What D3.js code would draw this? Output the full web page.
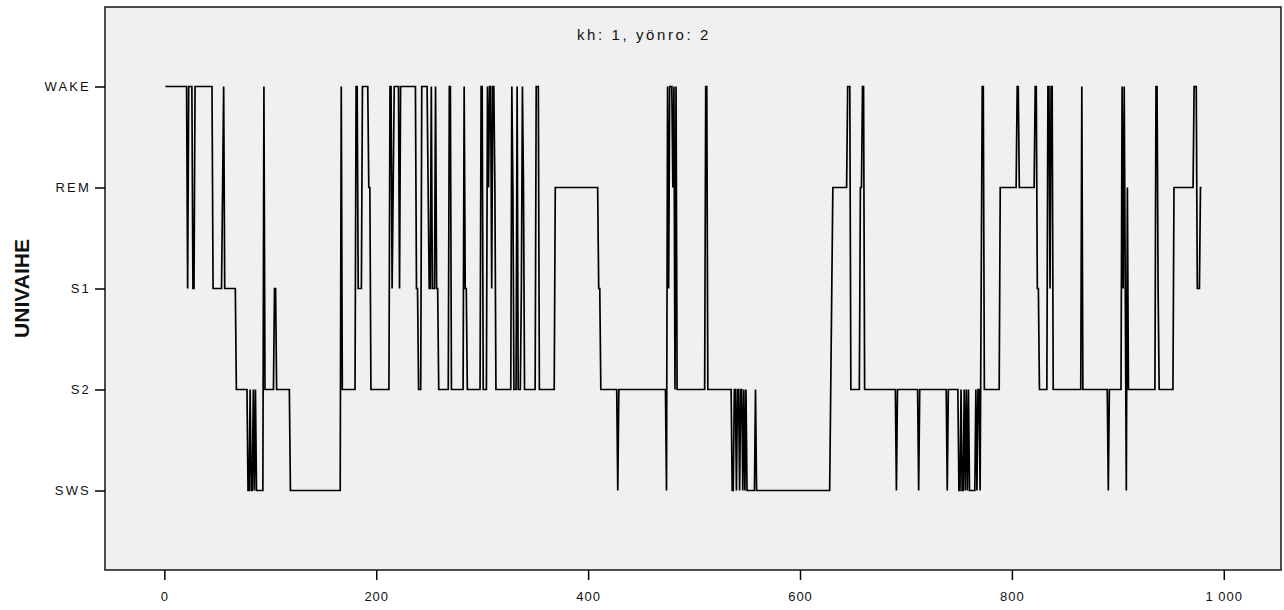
<!DOCTYPE html>
<html>
<head>
<meta charset="utf-8">
<script src="https://cdn.jsdelivr.net/npm/d3@7"></script>
<style>
  body { margin: 0; background: #fff; }
  text { font-family: "Liberation Sans", Arial, sans-serif; }
</style>
</head>
<body>
<svg id="chart" width="1284" height="610"></svg>
<script>
// unen vaiheet alhaalta ylös
const stageLabels = ["SWS", "S2", "S1", "REM", "WAKE"];
const xTicks = [0, 200, 400, 600, 800, 1000];
const xTickLabels = ["0", "200", "400", "600", "800", "1 000"];
const chartTitle = "kh: 1, yönro: 2";
const yTitle = "UNIVAIHE";

// jaksot: alkuepookki ja vaihe (run-length)
const runStart = [
  1, 22, 23, 27, 29, 46, 55, 56, 57, 68,
  79, 81, 82, 84, 85, 86, 87, 94, 95, 104,
  106, 119, 167, 168, 181, 183, 187, 193, 195, 213,
  215, 216, 217, 222, 223, 238, 240, 243, 249, 250,
  252, 253, 256, 257, 259, 269, 271, 283, 284, 286,
  299, 301, 305, 306, 307, 309, 310, 312, 313, 328,
  329, 330, 333, 334, 337, 338, 339, 340, 351, 354,
  369, 410, 412, 428, 429, 474, 475, 476, 477, 480,
  481, 482, 483, 484, 511, 513, 536, 538, 540, 541,
  543, 544, 546, 547, 548, 549, 550, 558, 559, 629,
  630, 631, 645, 648, 657, 659, 661, 691, 692, 712,
  713, 739, 740, 750, 752, 753, 755, 756, 757, 758,
  759, 760, 766, 767, 768, 770, 771, 772, 774, 789,
  805, 807, 822, 824, 826, 834, 836, 837, 839, 866,
  867, 891, 892, 904, 905, 906, 907, 908, 909, 910,
  936, 938, 939, 953, 972, 975, 978
];
const runStage = [
  "WAKE", "S1", "WAKE", "S1", "WAKE", "S1", "REM", "WAKE", "S1", "S2",
  "SWS", "S2", "SWS", "S2", "SWS", "S2", "SWS", "WAKE", "S2", "S1",
  "S2", "SWS", "WAKE", "S2", "WAKE", "S1", "WAKE", "REM", "S2", "WAKE",
  "S1", "REM", "WAKE", "S1", "WAKE", "S1", "S2", "WAKE", "REM", "S1",
  "WAKE", "S1", "WAKE", "S1", "S2", "WAKE", "S2", "WAKE", "S1", "S2",
  "WAKE", "S2", "WAKE", "REM", "WAKE", "S1", "WAKE", "REM", "S2", "WAKE",
  "REM", "S2", "WAKE", "S2", "S1", "WAKE", "REM", "S2", "WAKE", "S2",
  "REM", "S1", "S2", "SWS", "S2", "SWS", "WAKE", "S1", "WAKE", "REM",
  "WAKE", "S2", "WAKE", "S2", "WAKE", "S2", "SWS", "S2", "SWS", "S2",
  "SWS", "S2", "SWS", "S2", "SWS", "S2", "SWS", "S2", "SWS", "S2",
  "S1", "REM", "WAKE", "S2", "REM", "WAKE", "S2", "SWS", "S2", "SWS",
  "S2", "SWS", "S2", "SWS", "S2", "SWS", "S2", "SWS", "S2", "SWS",
  "S2", "SWS", "S2", "SWS", "S2", "SWS", "S1", "WAKE", "S2", "REM",
  "WAKE", "REM", "WAKE", "S1", "S2", "WAKE", "S1", "WAKE", "S2", "WAKE",
  "S2", "SWS", "S2", "WAKE", "S1", "WAKE", "S1", "SWS", "REM", "S2",
  "WAKE", "S1", "S2", "REM", "WAKE", "S1", "REM"
];
const lastEpoch = 979;

const svg = d3.select("#chart");
const margin = { left: 105, right: 3, top: 7, bottom: 40 };
const width = 1284, height = 610;

const x = d3.scaleLinear()
  .domain([-56, 1054])
  .range([margin.left, width - margin.right]);

const y = d3.scalePoint()
  .domain(stageLabels)
  .range([height - margin.bottom, margin.top])
  .padding(0.787);

// kuvan tausta
svg.append("rect")
  .attr("x", margin.left)
  .attr("y", margin.top)
  .attr("width", width - margin.right - margin.left)
  .attr("height", height - margin.bottom - margin.top)
  .attr("fill", "#f0f0f0");

// pisteet jaksoista
const points = [];
runStart.forEach((s, i) => {
  const end = i < runStart.length - 1 ? runStart[i + 1] - 1 : lastEpoch;
  points.push({ epoch: s, stage: runStage[i] });
  if (end > s) points.push({ epoch: end, stage: runStage[i] });
});

const line = d3.line()
  .x(d => x(d.epoch))
  .y(d => y(d.stage));

svg.append("path")
  .datum(points)
  .attr("d", line)
  .attr("fill", "none")
  .attr("stroke", "#000")
  .attr("stroke-width", 1.7)
  .attr("stroke-linejoin", "miter");

// kehys
svg.append("rect")
  .attr("x", margin.left)
  .attr("y", margin.top)
  .attr("width", width - margin.right - margin.left)
  .attr("height", height - margin.bottom - margin.top)
  .attr("fill", "none")
  .attr("stroke", "#222")
  .attr("stroke-width", 1.6);

// y-akseli
const yAxis = svg.append("g")
  .attr("transform", `translate(${margin.left},0)`)
  .call(d3.axisLeft(y).tickSize(10).tickPadding(4));
yAxis.select(".domain").remove();
yAxis.selectAll("line").attr("stroke", "#000").attr("stroke-width", 1.5);
yAxis.selectAll("text")
  .attr("fill", "#111")
  .style("font-size", "13px")
  .style("letter-spacing", "2.2px");

// x-akseli
const xAxis = svg.append("g")
  .attr("transform", `translate(0,${height - margin.bottom})`)
  .call(d3.axisBottom(x).tickValues(xTicks).tickSize(10)
    .tickFormat((d, i) => xTickLabels[i]));
xAxis.select(".domain").remove();
xAxis.selectAll("line").attr("stroke", "#000").attr("stroke-width", 1.5);
xAxis.selectAll("text")
  .attr("y", 31)
  .attr("dy", 0)
  .attr("fill", "#111")
  .style("font-size", "13px")
  .style("letter-spacing", "1px");

// otsikko
svg.append("text")
  .attr("x", 644)
  .attr("y", 40)
  .attr("text-anchor", "middle")
  .style("font-size", "15px")
  .style("letter-spacing", "2.6px")
  .attr("fill", "#111")
  .text(chartTitle);

svg.append("text")
  .attr("transform", `translate(29,${y("S1")}) rotate(-90)`)
  .attr("text-anchor", "middle")
  .style("font-size", "21px")
  .style("font-weight", "bold")
  .attr("fill", "#111")
  .text(yTitle);
</script>
</body>
</html>
